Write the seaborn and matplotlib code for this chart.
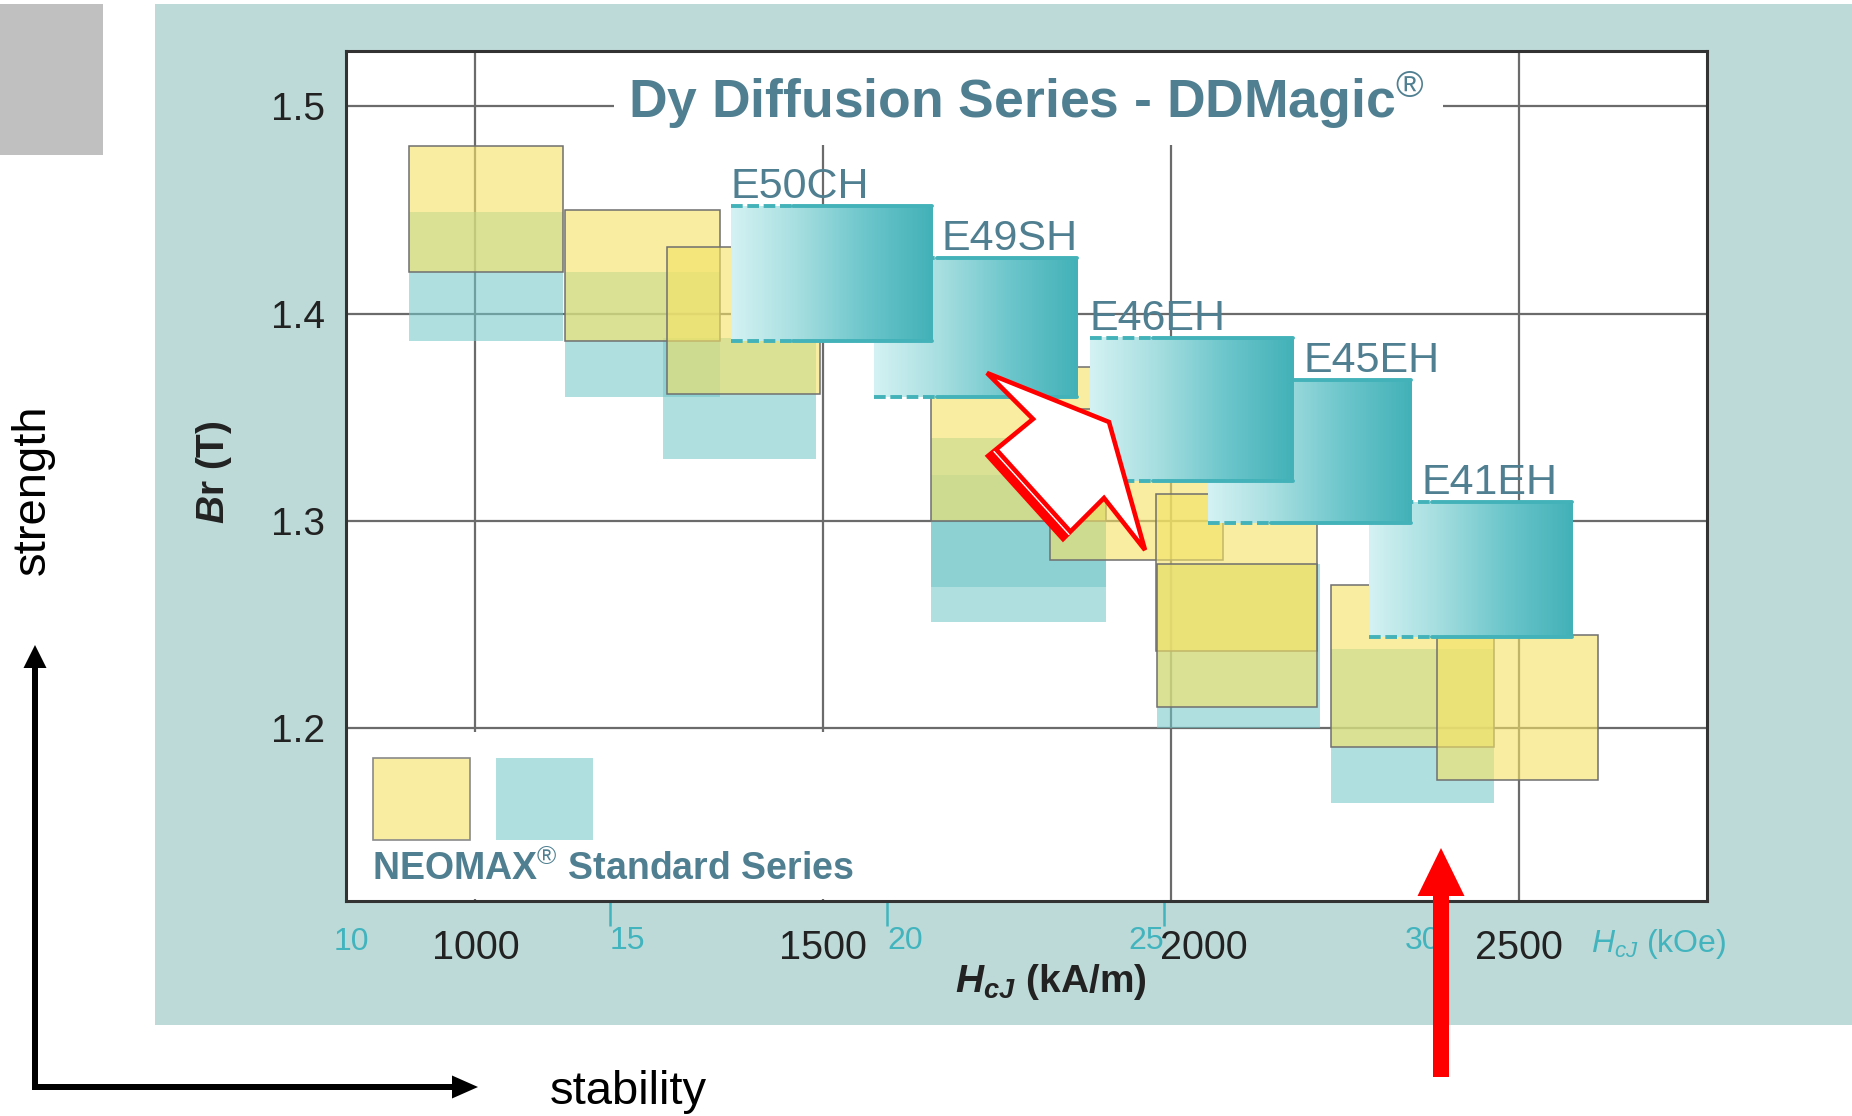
import numpy as np
import matplotlib
matplotlib.use("Agg")
import matplotlib.pyplot as plt
import matplotlib.patches as mpatches
import matplotlib.transforms as mtransforms
from matplotlib.colors import LinearSegmentedColormap, to_rgba
import seaborn as sns

# NEOMAX standard series, yellow boxes (HcJ in kA/m, Br in T)
yellow_hcj_lo = [905, 1129, 1275, 1655, 1826, 1978, 1980, 2230, 2383]
yellow_hcj_hi = [1126, 1351, 1495, 1906, 2075, 2210, 2210, 2465, 2614]
yellow_br_lo = [1.420, 1.387, 1.361, 1.300, 1.281, 1.237, 1.210, 1.191, 1.175]
yellow_br_hi = [1.481, 1.450, 1.432, 1.374, 1.354, 1.313, 1.279, 1.269, 1.245]

# NEOMAX standard series, teal boxes
teal_hcj_lo = [905, 1129, 1269, 1655, 1655, 1980, 2230]
teal_hcj_hi = [1126, 1351, 1490, 1906, 1906, 2214, 2464]
teal_br_lo = [1.387, 1.360, 1.330, 1.268, 1.251, 1.200, 1.164]
teal_br_hi = [1.449, 1.420, 1.388, 1.340, 1.322, 1.279, 1.238]

# Dy diffusion series (DDMagic)
dd_grades = ["E50CH", "E49SH", "E46EH", "E45EH", "E41EH"]
dd_hcj_lo = [1367, 1573, 1883, 2053, 2285]
dd_hcj_hi = [1656, 1865, 2176, 2345, 2577]
dd_br_lo = [1.387, 1.360, 1.319, 1.299, 1.244]
dd_br_hi = [1.452, 1.427, 1.388, 1.368, 1.309]
dd_label_after_prev = [False, True, False, True, True]

hcj_ticks = [1000, 1500, 2000, 2500]
br_ticks = [1.2, 1.3, 1.4, 1.5]
koe_ticks = [15, 20, 25, 30]
koe_ha = ["left", "left", "right", "right"]
KOE = 79.577  # kA/m per kOe

W, H = 1852, 1116
YELLOW = to_rgba("#f4e266", 0.62)
TEAL = to_rgba("#74c8ca", 0.57)
LABEL_COL = "#4f7f90"
KOE_COL = "#41b4be"
DD_EDGE = "#43b2b9"

sns.set_theme(style="white")
plt.rcParams["font.family"] = ["Liberation Sans", "DejaVu Sans"]
plt.rcParams["mathtext.fontset"] = "custom"
plt.rcParams["mathtext.rm"] = "Liberation Sans"
plt.rcParams["mathtext.it"] = "Liberation Sans:italic"
plt.rcParams["mathtext.bf"] = "Liberation Sans:bold"
plt.rcParams["mathtext.bfit"] = "Liberation Sans:italic:bold"

fig = plt.figure(figsize=(W / 100, H / 100), dpi=100, facecolor="white")
# pixel coordinates, y measured from the top
pxt = mtransforms.Affine2D().scale(1 / W, -1 / H).translate(0, 1) + fig.transFigure

fig.add_artist(mpatches.Rectangle((155, 4), W - 155, 1021, transform=pxt,
                                  facecolor="#bdd9d8", edgecolor="none", zorder=-5))
fig.add_artist(mpatches.Rectangle((0, 4), 103, 151, transform=pxt,
                                  facecolor="#c0c0c0", edgecolor="none", zorder=-5))

ax = fig.add_axes([346 / W, 215 / H, 1361 / W, 850 / H])
ax.set_facecolor("white")
ax.set_axisbelow(True)
ax.grid(True, color="#6b6b6b", lw=1.6)

# white boxes behind title and legend
ax.add_patch(mpatches.Rectangle((0.197, 0.889), 0.609, 0.111, transform=ax.transAxes,
                                facecolor="white", edgecolor="none", zorder=0.8))
ax.add_patch(mpatches.Rectangle((0.002, 0.002), 0.552, 0.197, transform=ax.transAxes,
                                facecolor="white", edgecolor="none", zorder=0.8))

for x0, x1, y0, y1 in zip(teal_hcj_lo, teal_hcj_hi, teal_br_lo, teal_br_hi):
    ax.add_patch(mpatches.Rectangle((x0, y0), x1 - x0, y1 - y0, facecolor=TEAL,
                                    edgecolor="none", zorder=2))
for x0, x1, y0, y1 in zip(yellow_hcj_lo, yellow_hcj_hi, yellow_br_lo, yellow_br_hi):
    ax.add_patch(mpatches.Rectangle((x0, y0), x1 - x0, y1 - y0, facecolor=YELLOW,
                                    edgecolor="#6f6f6f", lw=1.1, zorder=3))

grad_cmap = LinearSegmentedColormap.from_list(
    "dd", ["#d4f2f3", "#a6dee0", "#6cc6cb", "#42b1b8"])
grad = np.linspace(0, 1, 256).reshape(1, -1)
n = len(dd_grades)
for i in reversed(range(n)):
    x0, x1, y0, y1 = dd_hcj_lo[i], dd_hcj_hi[i], dd_br_lo[i], dd_br_hi[i]
    z = 5 + (n - i) * 0.1
    ax.imshow(grad, extent=(x0, x1, y0, y1), cmap=grad_cmap, aspect="auto",
              origin="lower", interpolation="bilinear", zorder=z)
    dash_end = x0 + 0.31 * (x1 - x0)
    for yy in (y0, y1):
        ax.plot([x0, dash_end], [yy, yy], color=DD_EDGE, lw=2.8,
                dashes=(3.0, 1.2), zorder=z + 0.01)
        ax.plot([dash_end, x1], [yy, yy], color=DD_EDGE, lw=2.8, zorder=z + 0.01)

for i, name in enumerate(dd_grades):
    if dd_label_after_prev[i]:
        xa, dx = dd_hcj_hi[i - 1], 10
    else:
        xa, dx = dd_hcj_lo[i], 0
    ax.annotate(name, (xa, dd_br_hi[i]), xytext=(dx, 8), textcoords="offset pixels",
                ha="left", va="baseline", fontsize=31, color=LABEL_COL, zorder=8)

ax.text(0.5, 0.921, "Dy Diffusion Series - DDMagic$^{®}$", transform=ax.transAxes,
        ha="center", va="baseline", fontsize=38.5, fontweight="bold",
        color=LABEL_COL, zorder=8)

# legend
ax.add_patch(mpatches.Rectangle((0.0198, 0.0718), 0.0713, 0.0964, transform=ax.transAxes,
                                facecolor=YELLOW, edgecolor="#8a8a8a", lw=1.2, zorder=4))
ax.add_patch(mpatches.Rectangle((0.1102, 0.0718), 0.0713, 0.0964, transform=ax.transAxes,
                                facecolor=TEAL, edgecolor="none", zorder=4))
ax.text(0.019, 0.0247, "NEOMAX$^{®}$ Standard Series", transform=ax.transAxes,
        ha="left", va="baseline", fontsize=27, fontweight="bold", color=LABEL_COL)

ax.set_xlim(814, 2770.5)
ax.set_ylim(1.1166, 1.5267)
ax.set_xticks(hcj_ticks)
ax.set_yticks(br_ticks)
ax.set_yticklabels([f"{v:.1f}" for v in br_ticks])
ax.tick_params(axis="y", length=0, pad=15, labelsize=28, labelcolor="#222222")
ax.tick_params(axis="x", direction="in", length=5, width=1.2, color="#555555",
               pad=20, labelsize=28.5, labelcolor="#222222")
for sp in ax.spines.values():
    sp.set_visible(True)
    sp.set_color("#333333")
    sp.set_linewidth(2.2)

ax.set_xlabel(r"$\mathbfit{H_{cJ}}$ (kA/m)", fontsize=28, fontweight="bold", color="#222222")
ax.xaxis.set_label_coords(0.518, -0.072)
ax.set_ylabel(r"$\mathbfit{B}$r (T)", fontsize=28, fontweight="bold", color="#222222")
ax.yaxis.set_label_coords(-0.082, 0.505)

sec = ax.secondary_xaxis("bottom", functions=(lambda v: v / KOE, lambda v: v * KOE))
sec.set_xticks(koe_ticks)
sec.set_xticklabels([str(t) for t in koe_ticks])
sec.tick_params(direction="out", length=18, width=1.8, color=KOE_COL,
                labelcolor=KOE_COL, labelsize=23, pad=0)
sec.spines["bottom"].set_visible(False)
for lab, ha in zip(sec.get_xticklabels(), koe_ha):
    lab.set_ha(ha)
koe_y = mtransforms.blended_transform_factory(ax.transData, ax.transAxes)
ax.text(10 * KOE, -0.031, "10", transform=koe_y, ha="left", va="top",
        fontsize=23, color=KOE_COL, clip_on=False)
ax.text(0.9148, -0.031, r"$H_{cJ}$ (kOe)", transform=ax.transAxes, ha="left", va="top",
        fontsize=23, color=KOE_COL, clip_on=False)

# side annotations
fig.add_artist(mpatches.Polygon([(32, 1090), (32, 668), (23.5, 668), (35, 645), (46.5, 668),
                                 (38, 668), (38, 1084), (452, 1084), (452, 1075.5),
                                 (478, 1087), (452, 1098.5), (452, 1090)],
                                closed=True, transform=pxt, facecolor="black",
                                edgecolor="none", zorder=10))
fig.text(33 / W, 1 - 490 / H, "strength", rotation=90, ha="center", va="center",
         fontsize=34, color="black")
fig.text(628 / W, 1 - 1092 / H, "stability", ha="center", va="center",
         fontsize=34, color="black")

fig.add_artist(mpatches.Polygon([(1433, 1077), (1433, 896), (1417.5, 896), (1441, 848),
                                 (1464.5, 896), (1449, 896), (1449, 1077)],
                                closed=True, transform=pxt, facecolor="#ff0000",
                                edgecolor="none", zorder=10))

hollow = [(987, 373), (1109, 422), (1145, 550), (1104, 498), (1063, 539), (988, 456), (1033, 419)]
fig.add_artist(mpatches.Polygon(hollow, closed=True, transform=pxt, facecolor="white",
                                edgecolor="#ff0000", lw=3.3, joinstyle="miter", zorder=10))
fig.add_artist(mpatches.Polygon([(988, 456), (1063, 539), (1072.5, 530.5), (997.5, 447.5)],
                                closed=True, transform=pxt, facecolor="#ff0000",
                                edgecolor="none", zorder=11))
fig.add_artist(plt.Line2D([994, 1069], [451.5, 534.5], transform=pxt, color="white",
                          lw=1, zorder=12))

# the 2000 label sits right of its gridline in the original, next to the "25" kOe label
fig.canvas.draw()
lab2000 = ax.get_xticklabels()[hcj_ticks.index(2000)]
lab2000.set_transform(lab2000.get_transform()
                      + mtransforms.ScaledTranslation(0.33, 0, fig.dpi_scale_trans))

fig.savefig("out.png", dpi=100)
